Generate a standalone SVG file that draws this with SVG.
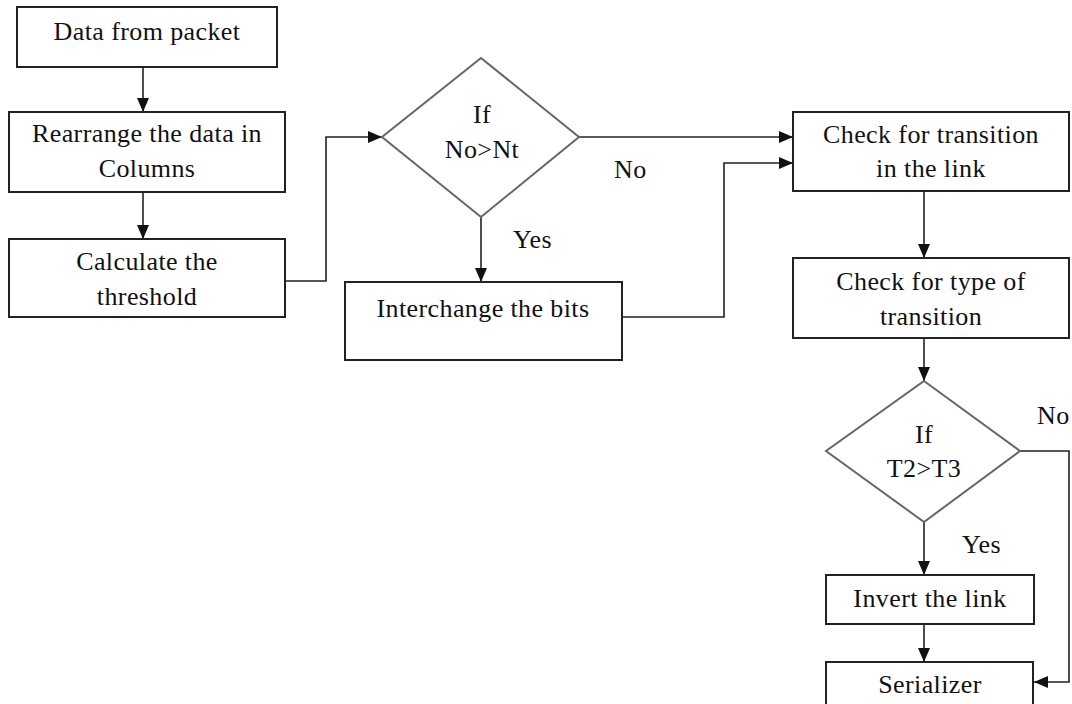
<svg xmlns="http://www.w3.org/2000/svg" width="1072" height="704" viewBox="0 0 1072 704">
<style>
.box{fill:#fff;stroke:#222;stroke-width:2}
.dia{fill:#fff;stroke:#666;stroke-width:2}
.ln{fill:none;stroke:#222;stroke-width:1.6}
text{font-family:"Liberation Serif","Times New Roman",serif;font-size:26px;letter-spacing:0.4px;fill:#111;text-anchor:middle}
.lbl{text-anchor:start}
</style>
<defs>
<marker id="ah" markerUnits="userSpaceOnUse" markerWidth="15" markerHeight="12" refX="14" refY="6" orient="auto">
<path d="M0,0 L14,6 L0,12 Z" fill="#111"/>
</marker>
</defs>
<rect width="1072" height="704" fill="#fff"/>
<g id="connectors">
<line class="ln" x1="143" y1="67" x2="143" y2="112" marker-end="url(#ah)"/>
<line class="ln" x1="143" y1="192" x2="143" y2="239" marker-end="url(#ah)"/>
<polyline class="ln" points="285,281 326,281 326,137 382,137" marker-end="url(#ah)"/>
<line class="ln" x1="579" y1="137" x2="793" y2="137" marker-end="url(#ah)"/>
<line class="ln" x1="481" y1="217" x2="481" y2="282" marker-end="url(#ah)"/>
<polyline class="ln" points="622,317 724,317 724,163 793,163" marker-end="url(#ah)"/>
<line class="ln" x1="924" y1="191" x2="924" y2="258" marker-end="url(#ah)"/>
<line class="ln" x1="924" y1="338" x2="924" y2="381" marker-end="url(#ah)"/>
<line class="ln" x1="924" y1="522" x2="924" y2="575" marker-end="url(#ah)"/>
<line class="ln" x1="924" y1="624" x2="924" y2="662" marker-end="url(#ah)"/>
<polyline class="ln" points="1020,451 1069,451 1069,682 1034,682" marker-end="url(#ah)"/>
<text class="lbl" x="614" y="178">No</text>
<text class="lbl" x="513" y="248">Yes</text>
<text class="lbl" x="1037" y="424">No</text>
<text class="lbl" x="962" y="553">Yes</text>
</g>
<g id="n1"><rect class="box" x="17" y="7" width="260" height="60"/><text x="147" y="40">Data from packet</text></g>
<g id="n2"><rect class="box" x="9" y="112" width="276" height="80"/><text x="147" y="142">Rearrange the data in</text><text x="147" y="177">Columns</text></g>
<g id="n3"><rect class="box" x="9" y="239" width="276" height="78"/><text x="147" y="270">Calculate the</text><text x="147" y="305">threshold</text></g>
<g id="d1"><polygon class="dia" points="481,58 579,137 481,217 382,137"/><text x="482" y="123">If</text><text x="482" y="158">No&gt;Nt</text></g>
<g id="n5"><rect class="box" x="345" y="282" width="277" height="78"/><text x="483" y="317">Interchange the bits</text></g>
<g id="n4"><rect class="box" x="793" y="112" width="276" height="79"/><text x="931" y="143">Check for transition</text><text x="931" y="177">in the link</text></g>
<g id="n6"><rect class="box" x="793" y="258" width="276" height="80"/><text x="931" y="290">Check for type of</text><text x="931" y="325">transition</text></g>
<g id="d2"><polygon class="dia" points="924,381 1020,451 924,522 826,451"/><text x="924" y="443">If</text><text x="924" y="477">T2&gt;T3</text></g>
<g id="n7"><rect class="box" x="826" y="575" width="208" height="49"/><text x="930" y="607">Invert the link</text></g>
<g id="n8"><rect class="box" x="826" y="662" width="207" height="50"/><text x="930" y="693">Serializer</text></g>
</svg>
